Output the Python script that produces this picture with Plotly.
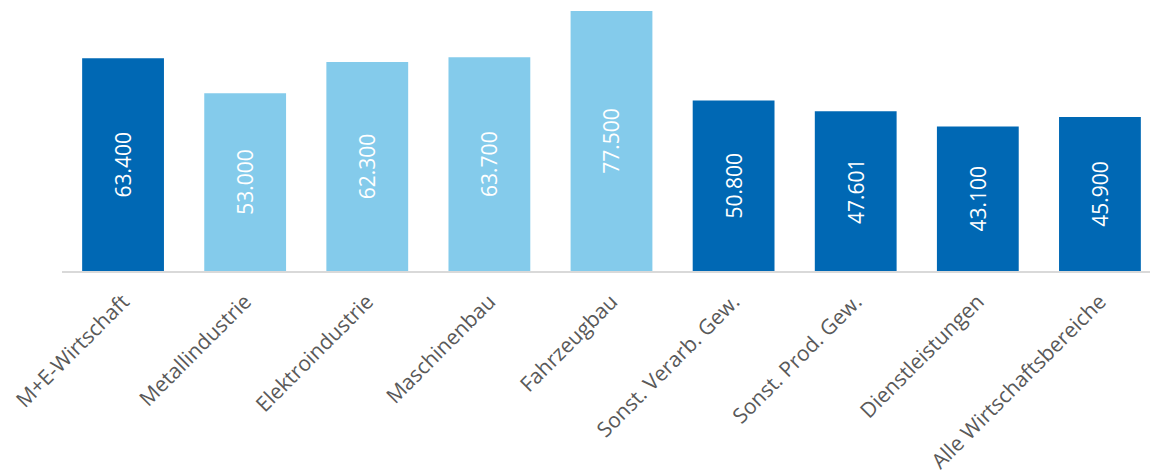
import plotly.graph_objects as go

categories = ["M+E-Wirtschaft", "Metallindustrie", "Elektroindustrie", "Maschinenbau",
              "Fahrzeugbau", "Sonst. Verarb. Gew.", "Sonst. Prod. Gew.", "Dienstleistungen",
              "Alle Wirtschaftsbereiche"]
values = [63400, 53000, 62300, 63700, 77500, 50800, 47601, 43100, 45900]
dark = "#0068B4"
light = "#84CBEB"
colors = [dark, light, light, light, light, dark, dark, dark, dark]

fig = go.Figure(go.Bar(
    x=categories, y=values, marker=dict(color=colors, line=dict(width=0)),
    width=0.67,
    texttemplate="%{y:,.0f}", textposition="inside", insidetextanchor="middle",
    textangle=-90, textfont=dict(color="white", size=21, family="Open Sans"),
    hoverinfo="skip",
))
fig.update_layout(
    width=1153, height=474, margin=dict(l=62, r=3, t=0, b=202.5),
    paper_bgcolor="white", plot_bgcolor="white", separators=",.",
    showlegend=False,
    font=dict(family="Open Sans", color="#595959", size=21),
)
fig.update_xaxes(range=[-0.5, 8.41], tickangle=-45, showline=True, linecolor="#D9D9D9",
                 linewidth=2, ticks="", ticklabelstandoff=8,
                 tickfont=dict(size=21, color="#595959"), fixedrange=True)
fig.update_yaxes(range=[0, 80770], visible=False, showgrid=False, fixedrange=True)
fig.write_html("out.html")
